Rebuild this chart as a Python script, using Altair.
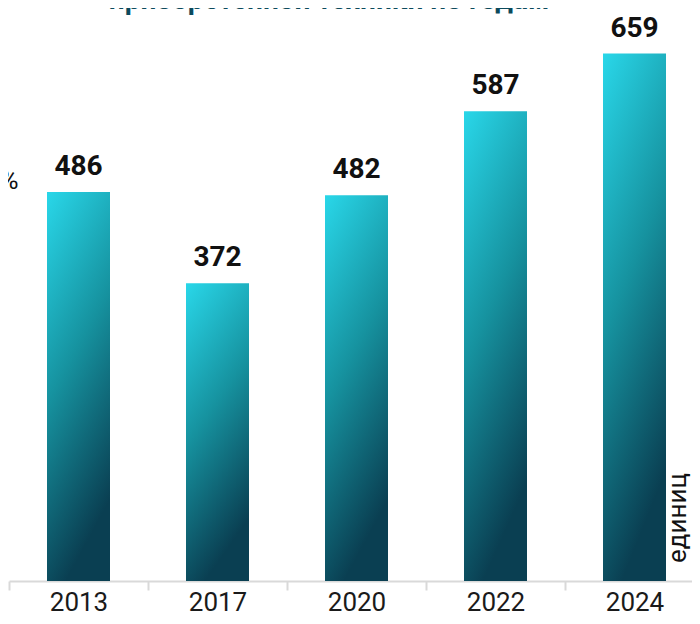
import altair as alt
import pandas as pd

years = ["2013", "2017", "2020", "2022", "2024"]
values = [486, 372, 482, 587, 659]
title_text = "приобретенной техники по годам"
unit_text = "единиц"
pct_text = "%"

df = pd.DataFrame({"year": years, "value": values})

grad = alt.Gradient(
    gradient="linear",
    x1=0, y1=0, x2=0.3, y2=1,
    stops=[
        alt.GradientStop(offset=0, color="#29d7e9"),
        alt.GradientStop(offset=0.5, color="#16929f"),
        alt.GradientStop(offset=1, color="#0a3f52"),
    ],
)

x = alt.X(
    "year:N",
    sort=years,
    scale=alt.Scale(range=[1, 696], paddingInner=0, paddingOuter=0),
    axis=alt.Axis(
        title=None,
        labelAngle=0,
        labelFont="Roboto",
        labelFontSize=26,
        labelColor="#1a1a1a",
        labelBaseline="alphabetic",
        labelPadding=20,
        domainColor="#d9d9d9",
        domainWidth=2,
        tickColor="#d9d9d9",
        tickWidth=2,
        tickSize=9,
        tickBand="extent",
        grid=False,
    ),
)
y = alt.Y("value:Q", scale=alt.Scale(domain=[0, 716], nice=False), axis=None)

base = alt.Chart(df).encode(x=x, y=y)

bars = base.mark_bar(size=63, color=grad)

labels = base.mark_text(
    font="Roboto", fontSize=28, fontWeight="bold", color="#111111",
    baseline="alphabetic", dy=-17,
).encode(text=alt.Text("value:Q"))

title = alt.Chart(pd.DataFrame({"t": [title_text]})).mark_text(
    font="Roboto", fontSize=28, fontWeight="bold", color="#0c4a5c",
    baseline="alphabetic", align="center",
).encode(text="t:N", x=alt.value(321), y=alt.value(1))

pct = alt.Chart(pd.DataFrame({"t": [pct_text]})).mark_text(
    font="Roboto", fontSize=26, color="#111111",
    baseline="alphabetic", align="right",
).encode(text="t:N", x=alt.value(10.5), y=alt.value(181))

unit = alt.Chart(pd.DataFrame({"t": [unit_text]})).mark_text(
    font="Roboto", fontSize=26, color="#111111",
    baseline="alphabetic", align="center", angle=270,
).encode(text="t:N", x=alt.value(678), y=alt.value(510))

chart = alt.layer(bars, labels, title, pct, unit).properties(
    width=684,
    height=573,
    autosize=alt.AutoSizeParams(type="none"),
    padding={"left": 0, "top": 0, "right": 0, "bottom": 35},
).configure_view(stroke=None)

chart.save("out.html", embed_options={"renderer": "svg", "actions": False})
